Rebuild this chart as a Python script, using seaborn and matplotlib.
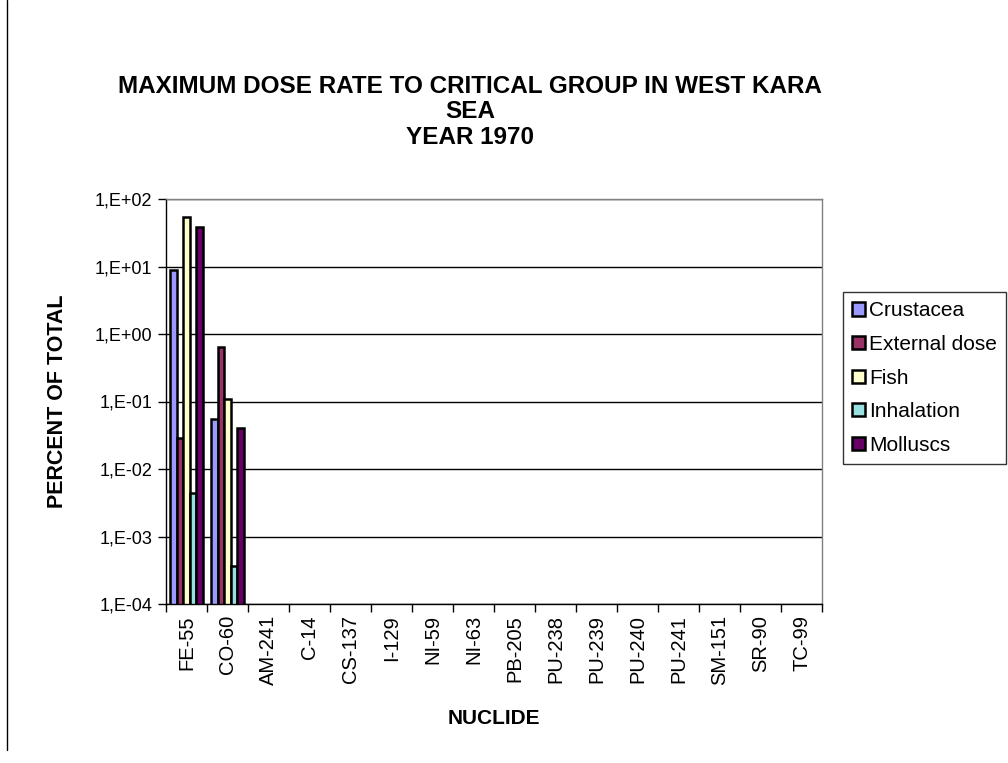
import numpy as np
import pandas as pd
import matplotlib
matplotlib.use("Agg")
import matplotlib.pyplot as plt
import seaborn as sns
from matplotlib.ticker import FixedLocator, FuncFormatter, NullLocator

nuclides = ["FE-55", "CO-60", "AM-241", "C-14", "CS-137", "I-129", "NI-59", "NI-63",
            "PB-205", "PU-238", "PU-239", "PU-240", "PU-241", "SM-151", "SR-90", "TC-99"]
series = ["Crustacea", "External dose", "Fish", "Inhalation", "Molluscs"]
crustacea = [9.0, 0.055] + [np.nan] * 14
external_dose = [0.029, 0.64] + [np.nan] * 14
fish = [54.0, 0.109] + [np.nan] * 14
inhalation = [0.0044, 0.00037] + [np.nan] * 14
molluscs = [38.5, 0.040] + [np.nan] * 14
colors = ["#9999FF", "#993366", "#FFFFCC", "#99E0E0", "#660066"]

rows = []
for name, vals in zip(series, [crustacea, external_dose, fish, inhalation, molluscs]):
    for n, v in zip(nuclides, vals):
        rows.append({"Nuclide": n, "Series": name, "Value": v})
df = pd.DataFrame(rows)

sns.set_style("white")
plt.rcParams["font.family"] = ["Liberation Sans", "DejaVu Sans"]
plt.rcParams["text.color"] = "black"
plt.rcParams["axes.labelcolor"] = "black"
plt.rcParams["xtick.color"] = "black"
plt.rcParams["ytick.color"] = "black"

fig = plt.figure(figsize=(10.08, 7.63), dpi=100)
ax = fig.add_axes([166 / 1008, 1 - 604 / 763, 656 / 1008, 405 / 763])

sns.barplot(data=df, x="Nuclide", y="Value", hue="Series", order=nuclides,
            hue_order=series, palette=colors, width=0.8, edgecolor="black",
            linewidth=1.8, saturation=1, ax=ax, errorbar=None)
ax.set_yscale("log")
ax.set_ylim(1e-4, 1e2)
ax.set_xlim(-0.5, len(nuclides) - 0.5)
ax.yaxis.set_major_locator(FixedLocator([10.0 ** k for k in range(-4, 3)]))
ax.yaxis.set_minor_locator(NullLocator())

def fmt(v, pos):
    e = int(round(np.log10(v)))
    return "1,E%s%02d" % ("+" if e >= 0 else "-", abs(e))
ax.yaxis.set_major_formatter(FuncFormatter(fmt))
ax.grid(axis="y", color="black", linewidth=1)
ax.grid(axis="x", visible=False)
ax.set_axisbelow(True)

ax.set_xticks(range(len(nuclides)))
ax.set_xticklabels(nuclides, rotation=90, fontsize=14.5, color="black")
ax.tick_params(axis="x", which="major", length=0, pad=8)
ax.xaxis.set_minor_locator(FixedLocator(np.arange(-0.5, len(nuclides), 1.0)))
ax.tick_params(axis="x", which="minor", length=6, width=1, color="black", direction="out", bottom=True)
ax.tick_params(axis="y", which="major", length=6, width=1, color="black", direction="out",
               left=True, labelsize=13, pad=4, labelcolor="black")

for s in ["left", "bottom"]:
    ax.spines[s].set_color("black")
    ax.spines[s].set_linewidth(1)
for s in ["top", "right"]:
    ax.spines[s].set_color("#808080")
    ax.spines[s].set_linewidth(1)

ax.set_xlabel("NUCLIDE", fontsize=15, fontweight="bold", color="black")
ax.xaxis.set_label_coords(0.5, -(718 - 604) / 405)
ax.xaxis.label.set_va("center")
ax.set_ylabel("PERCENT OF TOTAL", fontsize=15.5, fontweight="bold", color="black")
ax.yaxis.set_label_coords(-(166 - 58) / 656, 0.5)
ax.yaxis.label.set_va("center")

fig.text(470 / 1008, 1 - 112 / 763,
         "MAXIMUM DOSE RATE TO CRITICAL GROUP IN WEST KARA\nSEA\nYEAR 1970",
         ha="center", va="center", fontsize=17.5, fontweight="bold", linespacing=1.12,
         color="black")

leg = ax.legend(loc="upper left", bbox_to_anchor=(843 / 1008, 1 - 292 / 763),
                bbox_transform=fig.transFigure, frameon=True, fancybox=False,
                edgecolor="black", fontsize=15, handlelength=0.6, handleheight=0.6,
                handletextpad=0.2, borderpad=0.45, labelspacing=0.7, borderaxespad=0)
leg.get_frame().set_linewidth(1)
for t in leg.get_texts():
    t.set_color("black")

fig.add_artist(plt.Line2D([7 / 1008, 7 / 1008], [1 - 750 / 763, 1.0],
                          transform=fig.transFigure, color="black", linewidth=1))

fig.savefig("out.png", dpi=100, facecolor="white")
